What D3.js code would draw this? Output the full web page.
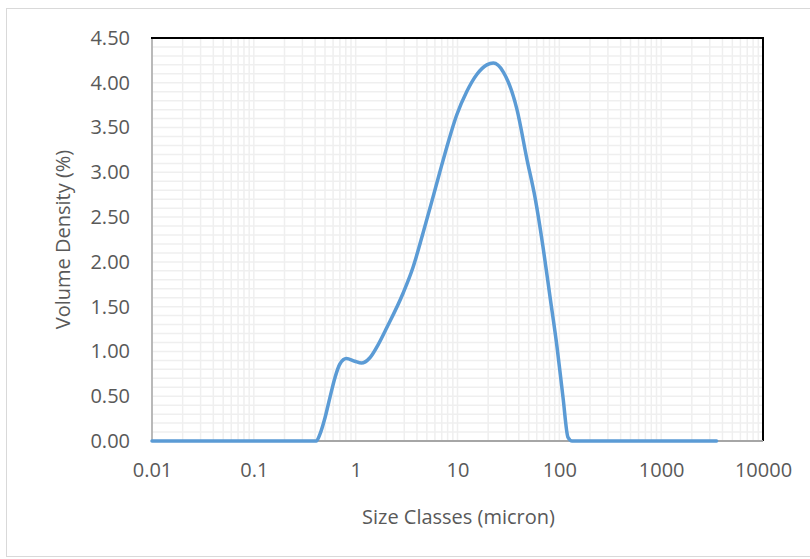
<!DOCTYPE html>
<html>
<head>
<meta charset="utf-8">
<script src="https://cdn.jsdelivr.net/npm/d3@7"></script>
<style>
  body { margin: 0; background: #fff; }
  svg text { font-family: "Open Sans", "Noto Sans", sans-serif; fill: #595959; }
</style>
</head>
<body>
<div id="chart"></div>
<script>
// size classes (micron) and volume density (%)
var sizes = [0.01, 0.1, 0.41, 0.447, 0.5, 0.56, 0.627, 0.7, 0.81, 0.98, 1.14,
  1.38, 1.67, 2.03, 2.92, 3.66, 4.58, 5.58, 6.73, 8.12, 9.82, 12.3, 15.4, 19.4,
  22.5, 28.2, 38.4, 48.2, 57.7, 69.1, 81.0, 94.9, 108.6, 121.7, 133.3, 3500];
var density = [0, 0, 0, 0.08, 0.26, 0.49, 0.71, 0.86, 0.92, 0.89, 0.87,
  0.93, 1.08, 1.27, 1.65, 1.94, 2.32, 2.67, 3.01, 3.34, 3.64, 3.90, 4.09, 4.20,
  4.22, 4.12, 3.70, 3.14, 2.72, 2.17, 1.61, 1.05, 0.49, 0.04, 0, 0];
var xTicks = [0.01, 0.1, 1, 10, 100, 1000, 10000];
var xTickLabels = ['0.01', '0.1', '1', '10', '100', '1000', '10000'];
var yTicks = [0, 0.5, 1, 1.5, 2, 2.5, 3, 3.5, 4, 4.5];

var W = 810, H = 559;
var pLeft = 152, pRight = 763, pTop = 38, pBottom = 441;

var svg = d3.select('#chart').append('svg')
    .attr('width', W)
    .attr('height', H);

// outer chart frame
svg.append('rect')
    .attr('x', 6.5).attr('y', 8.5)
    .attr('width', 830).attr('height', 548)
    .attr('fill', '#fff')
    .attr('stroke', '#d9d9d9');

var x = d3.scaleLog().domain([0.01, 10000]).range([pLeft, pRight]);
var y = d3.scaleLinear().domain([0, 4.5]).range([pBottom, pTop]);

// minor gridlines
var grid = svg.append('g').attr('stroke', '#efefef').attr('stroke-width', 1.5);
var i, d;
for (d = -2; d < 4; d++) {
  for (i = 1; i < 10; i++) {
    grid.append('line')
        .attr('x1', x(i * Math.pow(10, d))).attr('x2', x(i * Math.pow(10, d)))
        .attr('y1', pTop).attr('y2', pBottom);
  }
}
for (i = 1; i < 45; i++) {
  grid.append('line')
      .attr('x1', pLeft).attr('x2', pRight)
      .attr('y1', y(i / 10)).attr('y2', y(i / 10));
}

// plot borders
svg.append('line')
    .attr('x1', pLeft).attr('x2', pLeft).attr('y1', pTop).attr('y2', pBottom)
    .attr('stroke', '#a6a6a6').attr('stroke-width', 1.5);
svg.append('line')
    .attr('x1', pLeft - 1).attr('x2', pRight + 1).attr('y1', pTop).attr('y2', pTop)
    .attr('stroke', '#000').attr('stroke-width', 2);
svg.append('line')
    .attr('x1', pRight).attr('x2', pRight).attr('y1', pTop).attr('y2', pBottom)
    .attr('stroke', '#000').attr('stroke-width', 2);
svg.append('line')
    .attr('x1', pLeft).attr('x2', pRight).attr('y1', pBottom).attr('y2', pBottom)
    .attr('stroke', '#a6a6a6').attr('stroke-width', 2);

// axes labels
var xAxis = d3.axisBottom(x).tickValues(xTicks)
    .tickFormat(function (v, k) { return xTickLabels[k]; })
    .tickSize(0).tickPadding(22);
var gx = svg.append('g').attr('transform', 'translate(0,' + pBottom + ')').call(xAxis);
gx.select('.domain').remove();
gx.selectAll('text').attr('font-size', 20).attr('fill', '#595959');

var yAxis = d3.axisLeft(y).tickValues(yTicks)
    .tickFormat(function (v) { return v.toFixed(2); })
    .tickSize(0).tickPadding(22);
var gy = svg.append('g').attr('transform', 'translate(' + pLeft + ',0)').call(yAxis);
gy.select('.domain').remove();
gy.selectAll('text').attr('font-size', 20).attr('fill', '#595959');

// series
var line = d3.line()
    .x(function (k) { return x(sizes[k]); })
    .y(function (k) { return y(density[k]); })
    .curve(d3.curveMonotoneX);

svg.append('path')
    .datum(d3.range(sizes.length))
    .attr('d', line)
    .attr('fill', 'none')
    .attr('stroke', '#5b9bd5')
    .attr('stroke-width', 3.5)
    .attr('stroke-linejoin', 'round')
    .attr('stroke-linecap', 'round');

// axis titles
svg.append('text')
    .attr('x', (pLeft + pRight) / 2 + 1).attr('y', 524)
    .attr('text-anchor', 'middle')
    .attr('font-size', 20)
    .text('Size Classes (micron)');

svg.append('text')
    .attr('transform', 'translate(70,' + (pTop + pBottom) / 2 + ') rotate(-90)')
    .attr('text-anchor', 'middle')
    .attr('font-size', 20)
    .text('Volume Density (%)');
</script>
</body>
</html>
